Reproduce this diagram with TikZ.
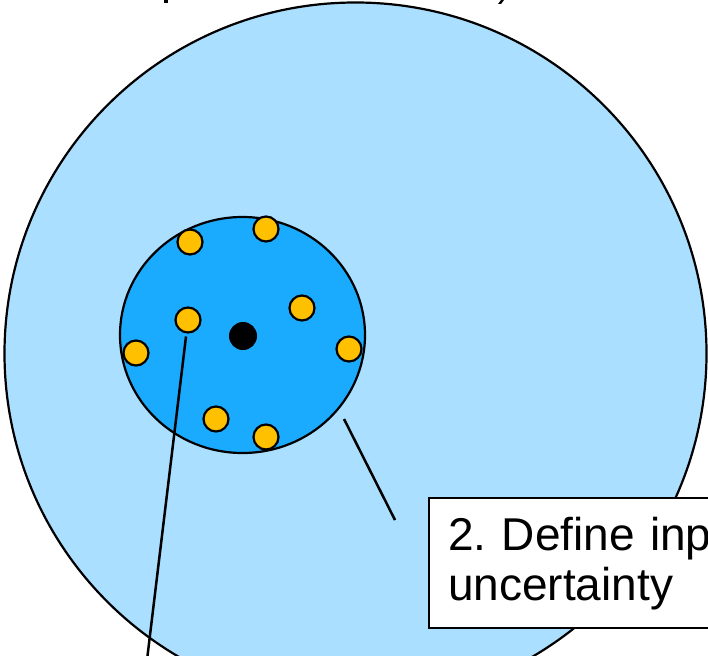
\documentclass[tikz,border=0pt]{standalone}
\usepackage{fontspec}
\setmainfont{Liberation Sans}
\frenchspacing
\usetikzlibrary{shapes.geometric}
\definecolor{outerblue}{HTML}{ABDFFF}
\definecolor{innerblue}{HTML}{1AABFF}
\definecolor{dotorange}{HTML}{FFC000}
\tikzset{
  outercirc/.style={circle, draw=black, line width=2.2pt, fill=outerblue, minimum size=702pt, inner sep=0pt},
  innercirc/.style={ellipse, draw=black, line width=2.2pt, fill=innerblue, minimum width=245pt, minimum height=236pt, inner sep=0pt},
  sample/.style={circle, draw=black, line width=2.2pt, fill=dotorange, minimum size=25pt, inner sep=0pt},
  meanpt/.style={circle, fill=black, minimum size=28pt, inner sep=0pt},
  leader/.style={draw=black, line width=2.5pt},
  labelbox/.style={draw=black, line width=2.2pt, fill=white, anchor=north west, align=left,
    text width=400pt, minimum height=130pt, inner xsep=19pt, inner ysep=0pt,
    font=\fontsize{46}{50}\selectfont},
  frag/.style={fill=black}
}
\begin{document}
\begin{tikzpicture}[x=1pt,y=-1pt]
\useasboundingbox (0,0) rectangle (708,655);
\clip (0,0) rectangle (708,655);
\node[outercirc] (outer) at (355.5,353.5) {};
\node[innercirc] (inner) at (242.5,335) {};
\node[meanpt] (mean) at (243,336) {};
\node[sample] (d1) at (190,242) {};
\node[sample] (d2) at (266,229) {};
\node[sample] (d3) at (302,308) {};
\node[sample] (d4) at (188,320) {};
\node[sample] (d5) at (136,353) {};
\node[sample] (d6) at (349,349) {};
\node[sample] (d7) at (216,419) {};
\node[sample] (d8) at (266,437) {};
\coordinate (l1end) at (147,660);
\coordinate (l2start) at (344,419);
\coordinate (l2end) at (395,520);
\draw[leader, shorten <=3pt] (d4) -- (l1end);
\draw[leader] (l2start) -- (l2end);
\node[labelbox] (box) at (428,497) {2. Define input\\uncertainty};
% cropped fragments of a title above the picture
\fill[frag] (164,0) rectangle (168,3);
\fill[frag] (498,4) -- (501,4) -- (504,0) -- (501,0) -- cycle;
\end{tikzpicture}
\end{document}
